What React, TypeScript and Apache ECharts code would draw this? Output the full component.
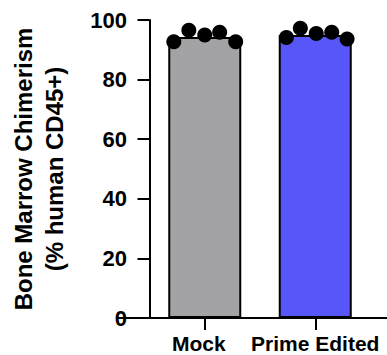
import React, { useEffect, useRef } from "react";
import * as echarts from "echarts";

const categories = ["Mock", "Prime Edited"];
const barValues = [94.3, 95.0];
const barColors = ["#A3A3A6", "#5757F9"];
const mockDots = [92.7, 96.6, 95.0, 95.9, 92.7];
const mockJitter = [0.22, 0.356, 0.5, 0.635, 0.78];
const primeDots = [94.1, 97.2, 95.5, 95.9, 93.6];
const primeJitter = [1.239, 1.365, 1.509, 1.649, 1.788];
const yTicks = [0, 20, 40, 60, 80, 100];

export default function App() {
  const ref = useRef<HTMLDivElement>(null);
  useEffect(() => {
    const chart = echarts.init(ref.current!, null, { renderer: "svg" });
    const font = "Liberation Sans, Arial, sans-serif";
    const dots = [
      ...mockDots.map((v, i) => [mockJitter[i], v]),
      ...primeDots.map((v, i) => [primeJitter[i], v]),
    ];
    chart.setOption({
      animation: false,
      backgroundColor: "#fff",
      grid: [
        { left: 148.5, width: 222, top: 20, bottom: 37 },
        { left: 118, right: 0, top: 20, bottom: 37 },
      ],
      xAxis: [
        {
          type: "category",
          gridIndex: 0,
          data: categories.map((c, i) =>
            i === 0 ? { value: c, textStyle: { padding: [0, 12, 0, 0] } } : c
          ),
          axisLine: { show: false },
          axisTick: { show: true, alignWithLabel: true, interval: 0, length: 12, lineStyle: { color: "#000", width: 2 } },
          axisLabel: {
            interval: 0,
            hideOverlap: false,
            margin: 15,
            color: "#000",
            fontSize: 21,
            fontWeight: "bold",
            fontFamily: font,
          },
        },
        {
          type: "value",
          gridIndex: 0,
          min: 0,
          max: 2,
          show: false,
        },
        {
          type: "value",
          gridIndex: 1,
          min: 0,
          max: 1,
          axisLine: { show: true, onZero: false, lineStyle: { color: "#000", width: 2 } },
          axisTick: { show: false },
          axisLabel: { show: false },
          splitLine: { show: false },
        },
      ],
      yAxis: [
        {
          type: "value",
          gridIndex: 0,
          min: 0,
          max: 100,
          interval: 20,
          offset: 19.5,
          axisLine: { show: true, lineStyle: { color: "#000", width: 2 } },
          axisTick: { show: true, length: 12, lineStyle: { color: "#000", width: 2 } },
          axisLabel: {
            margin: 3,
            color: "#000",
            fontSize: 22,
            fontWeight: "bold",
            fontFamily: font,
            formatter: (v: number) => (yTicks.includes(v) ? String(v) : ""),
          },
          splitLine: { show: false },
          name: "Bone Marrow Chimerism\n(% human CD45+)",
          nameLocation: "middle",
          nameGap: 60,
          nameTextStyle: {
            color: "#000",
            fontSize: 24,
            fontWeight: "bold",
            fontFamily: font,
            lineHeight: 31,
            align: "center",
          },
        },
        { type: "value", gridIndex: 1, min: 0, max: 100, show: false },
      ],
      series: [
        {
          type: "bar",
          xAxisIndex: 0,
          yAxisIndex: 0,
          barWidth: 73,
          data: barValues.map((v, i) => ({
            value: v,
            itemStyle: { color: barColors[i], borderColor: "#000", borderWidth: 2 },
          })),
        },
        {
          type: "scatter",
          xAxisIndex: 1,
          yAxisIndex: 0,
          symbolSize: 15,
          itemStyle: { color: "#000", opacity: 1 },
          data: dots,
          z: 5,
        },
      ],
    });
    return () => chart.dispose();
  }, []);
  return (
    <div
      ref={ref}
      style={{ position: "fixed", left: 0, top: 0, width: 387, height: 355 }}
    />
  );
}
